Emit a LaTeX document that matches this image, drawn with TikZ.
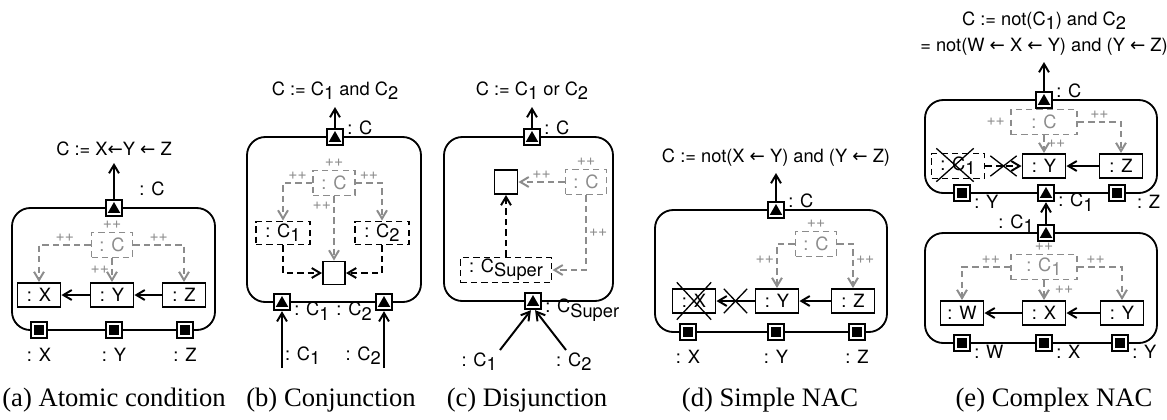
\documentclass[tikz,border=0pt]{standalone}
\usepackage{fontspec}
\setsansfont{TeX Gyre Heros}
\newfontfamily\capfont{Liberation Serif}
\newfontfamily\arrowfont{DejaVu Sans}
\usetikzlibrary{arrows.meta,calc,positioning,shapes.misc}
\definecolor{condGray}{HTML}{8C8C8C}
\newlength{\pxu}
\setlength{\pxu}{0.383pt}
\newcommand{\diagfont}{\sffamily\fontsize{7}{8}\selectfont}
\newcommand{\csub}[1]{\raisebox{-1.6pt}{#1}}
\newcommand{\lar}{{\arrowfont\char"2190}}

\begin{document}
\begin{tikzpicture}[x=0.383pt, y=-0.383pt, every node/.style={font=\diagfont},
    condframe/.style={draw, line width=0.7pt, rounded corners=7pt, inner sep=0pt},
    obj/.style={draw, line width=0.75pt, minimum width=43\pxu, minimum height=24\pxu, inner sep=0pt},
    dobj/.style={obj, dash pattern=on 2.4pt off 1.6pt},
    ghost/.style={dobj, draw=condGray, text=condGray, minimum width=41\pxu, minimum height=25\pxu},
    hole/.style={draw, line width=0.75pt, minimum width=22\pxu, minimum height=23\pxu, inner sep=0pt},
    outport/.style={draw, line width=0.9pt, fill=white, minimum size=16\pxu, inner sep=0pt,
      path picture={\fill[black] ([xshift=-2.4pt,yshift=-1.9pt]path picture bounding box.center) -- ++(4.8pt,0pt) -- ++(-2.4pt,4.2pt) -- cycle;}},
    inport/.style={draw, line width=0.9pt, fill=white, minimum size=16\pxu, inner sep=0pt,
      path picture={\fill[black] ([xshift=-1.8pt,yshift=-1.8pt]path picture bounding box.center) rectangle ++(3.6pt,3.6pt);}},
    lbl/.style={inner sep=1pt},
    res/.style={inner sep=2.5pt, anchor=south},
    plus/.style={font=\sffamily\fontsize{6}{6}\selectfont, text=condGray, inner sep=0.8pt},
    arr/.style={line width=0.75pt, -{Straight Barb[length=3.2pt,width=3.8pt]}},
    garr/.style={arr, condGray, dash pattern=on 2.4pt off 1.6pt},
    darr/.style={arr, dash pattern=on 2.4pt off 1.6pt},
    xmark/.style={cross out, draw, solid, line width=0.5pt, inner sep=0pt},
    capt/.style={font=\capfont\fontsize{10.2}{12}\selectfont}]
  \useasboundingbox (0,0) rectangle (1167,419);

  \node[condframe, minimum width=203\pxu, minimum height=122\pxu] (aBox) at (113.5,269) {};
  \node[outport] (aOut) at (114,208) {};
  \node[res] (aRes) at (114,163) {C := X\lar Y \lar{} Z};
  \draw[arr] (aOut) -- (aRes);
  \node[lbl] (aOutL) at (152,189) {: C};
  \node[ghost] (aC) at (112,245) {: C};
  \node[plus, above=0pt of aC] (aCp) {++};
  \node[obj] (aX) at (39,295) {: X};
  \node[obj] (aY) at (112,295) {: Y};
  \node[obj] (aZ) at (184,295) {: Z};
  \draw[arr] (aY) -- (aX);
  \draw[arr] (aZ) -- (aY);
  \draw[garr] (aC.west) -| node[plus, pos=0.25, above] (aPl) {++} (aX.north);
  \draw[garr] (aC.east) -| node[plus, pos=0.25, above] (aPr) {++} (aZ.north);
  \draw[garr] (aC) -- node[plus, left] (aPm) {++} (aY);
  \node[inport] (aInX) at (39,330) {};
  \node[inport] (aInY) at (114,330) {};
  \node[inport] (aInZ) at (185,330) {};
  \foreach \p/\t in {aInX/X,aInY/Y,aInZ/Z}
    \node[lbl, below=2.3pt of \p] (\p L) {: \t};

  \node[condframe, minimum width=174\pxu, minimum height=165\pxu] (bBox) at (334,219.5) {};
  \node[outport] (bOut) at (335,137) {};
  \node[res] (bRes) at (335,107) {C := C\csub{1} and C\csub{2}};
  \draw[arr] (bOut) -- (bRes);
  \node[lbl, anchor=west] (bOutL) at (bOut.north east) {: C};
  \node[ghost, minimum width=42\pxu] (bC) at (334,183) {: C};
  \node[plus, above=0pt of bC] (bCp) {++};
  \node[dobj, minimum width=54\pxu, minimum height=23\pxu] (bC1) at (283,233) {: C\csub{1}};
  \node[dobj, minimum width=54\pxu, minimum height=23\pxu] (bC2) at (382,233) {: C\csub{2}};
  \node[hole] (bAnd) at (334,273) {};
  \draw[garr] (bC.west) -| node[plus, pos=0.25, above] (bPl) {++} (bC1.north);
  \draw[garr] (bC.east) -| node[plus, pos=0.25, above] (bPr) {++} (bC2.north);
  \draw[garr] (bC) -- node[plus, pos=0.15, left] (bPm) {++} (bAnd);
  \draw[darr] (bC1.south) |- (bAnd.west);
  \draw[darr] (bC2.south) |- (bAnd.east);
  \node[outport] (bIn1) at (282,302) {};
  \node[outport] (bIn2) at (384,302) {};
  \node[lbl, anchor=west] (bIn1L) at (bIn1.south east) {: C\csub{1}};
  \node[lbl, anchor=east] (bIn2L) at (bIn2.south west) {: C\csub{2}};
  \coordinate (bSrc1) at (282,368);
  \coordinate (bSrc2) at (384,368);
  \draw[arr] (bSrc1) -- (bIn1);
  \draw[arr] (bSrc2) -- (bIn2);
  \node[lbl, anchor=south west] (bSrc1L) at (bSrc1) {: C\csub{1}};
  \node[lbl, anchor=south east] (bSrc2L) at (bSrc2) {: C\csub{2}};

  \node[condframe, minimum width=169\pxu, minimum height=164\pxu] (cBox) at (528.5,219) {};
  \node[outport] (cOut) at (532,137) {};
  \node[res] (cRes) at (532,107) {C := C\csub{1} or C\csub{2}};
  \draw[arr] (cOut) -- (cRes);
  \node[lbl, anchor=west] (cOutL) at (cOut.north east) {: C};
  \node[hole, minimum width=23\pxu, minimum height=24\pxu] (cOr) at (506,182) {};
  \node[ghost] (cC) at (586,182) {: C};
  \node[plus, above=0pt of cC] (cCp) {++};
  \node[dobj, minimum width=91\pxu, minimum height=25\pxu] (cSup) at (506,270) {: C\csub{Super}};
  \draw[garr] (cC) -- node[plus, above] (cPt) {++} (cOr);
  \draw[garr] (cC.south) |- node[plus, pos=0.25, right] (cPd) {++} (cSup.east);
  \draw[darr] (cSup) -- (cOr);
  \node[outport] (cIn) at (533,301) {};
  \node[lbl, anchor=west] (cInL) at (cIn.south east) {: C\csub{Super}};
  \coordinate (cSrc1) at (500,350);
  \coordinate (cSrc2) at (566,350);
  \draw[arr] (cSrc1) -- ([xshift=-0.8pt]cIn.south);
  \draw[arr] (cSrc2) -- ([xshift=0.8pt]cIn.south);
  \node[lbl, anchor=north east] (cSrc1L) at (cSrc1) {: C\csub{1}};
  \node[lbl, anchor=north] (cSrc2L) at ([xshift=3pt]cSrc2) {: C\csub{2}};

  \node[condframe, minimum width=232\pxu, minimum height=122\pxu] (dBox) at (771,271) {};
  \node[outport] (dOut) at (776,210) {};
  \node[res] (dRes) at (776,173) {C := not(X \lar{} Y) and (Y \lar{} Z)};
  \draw[arr] (dOut) -- (dRes);
  \node[lbl, anchor=west] (dOutL) at (dOut.north east) {: C};
  \node[ghost] (dC) at (816,244) {: C};
  \node[plus, above=0pt of dC] (dCp) {++};
  \node[obj] (dX) at (694,301) {: X};
  \node[obj] (dY) at (777,301) {: Y};
  \node[obj] (dZ) at (853,301) {: Z};
  \node[xmark, minimum width=33\pxu, minimum height=36\pxu] (dXno) at (dX) {};
  \draw[garr] (dC.west) -| node[plus, pos=0.68, left] (dPl) {++} (dY.north);
  \draw[garr] (dC.east) -| node[plus, pos=0.68, right] (dPr) {++} (dZ.north);
  \draw[arr] (dZ) -- (dY);
  \draw[arr] (dY) -- node[xmark, minimum width=22\pxu, minimum height=23\pxu] (dNo) {} (dX);
  \node[inport] (dInX) at (688,332) {};
  \node[inport] (dInY) at (776,332) {};
  \node[inport] (dInZ) at (857,332) {};
  \foreach \p/\t in {dInX/X,dInY/Y,dInZ/Z}
    \node[lbl, below=2.3pt of \p] (\p L) {: \t};

  \node[condframe, minimum width=232\pxu, minimum height=93\pxu] (eTop) at (1041,146.5) {};
  \node[condframe, minimum width=232\pxu, minimum height=110\pxu] (eBot) at (1041,288) {};
  \node[outport] (eOut) at (1044,100) {};
  \node[res, align=center] (eRes) at (1044,62) {C := not(C\csub{1}) and C\csub{2}\\[1.8pt]= not(W \lar{} X \lar{} Y) and (Y \lar{} Z)};
  \draw[arr] (eOut) -- (eRes);
  \node[lbl, anchor=west] (eOutL) at (eOut.north east) {: C};
  \node[ghost, minimum width=66\pxu] (eC) at (1044,122) {: C};
  \node[plus, left=1pt of eC] (eCp) {++};
  \node[dobj, minimum width=53\pxu, minimum height=25\pxu] (eC1) at (958,166) {: C\csub{1}};
  \node[xmark, minimum width=36\pxu, minimum height=32\pxu] (eC1no) at (955,165) {};
  \node[obj] (eY) at (1044,166) {: Y};
  \node[obj] (eZ) at (1121,166) {: Z};
  \draw[garr] (eC) -- node[plus, right] (ePm) {++} (eY);
  \draw[garr] (eC.east) -| node[plus, pos=0.25, above] (ePr) {++} (eZ.north);
  \draw[arr] (eZ) -- (eY);
  \draw[darr] (eC1) -- node[xmark, minimum width=25\pxu, minimum height=19\pxu] (eNo) {} (eY);
  \node[inport] (eInY) at (962,193) {};
  \node[outport] (eInC1) at (1046,193) {};
  \node[inport] (eInZ) at (1117,193) {};
  \node[lbl, anchor=west] (eInYL) at (eInY.south east) {: Y};
  \node[lbl, anchor=west] (eInC1L) at (eInC1.south east) {: C\csub{1}};
  \node[lbl, anchor=west] (eInZL) at ([xshift=3pt]eInZ.south east) {: Z};
  \node[outport] (eOut1) at (1046,233) {};
  \draw[arr] (eOut1) -- (eInC1);
  \node[lbl, anchor=east] (eOut1L) at (eOut1.north west) {: C\csub{1}};
  \node[ghost, minimum width=66\pxu] (eCC) at (1044,267) {: C\csub{1}};
  \node[plus, above=0pt of eCC] (eCCp) {++};
  \node[obj] (eW) at (962,313) {: W};
  \node[obj] (eX) at (1044,313) {: X};
  \node[obj] (eYY) at (1122,313) {: Y};
  \draw[garr] (eCC.west) -| node[plus, pos=0.2, above] (eQl) {++} (eW.north);
  \draw[garr] (eCC.east) -| node[plus, pos=0.2, above] (eQr) {++} (eYY.north);
  \draw[garr] (eCC) -- node[plus, right=3pt] (eQm) {++} (eX);
  \draw[arr] (eX) -- (eW);
  \draw[arr] (eYY) -- (eX);
  \node[inport] (eInW) at (962,343) {};
  \node[inport] (eInX) at (1044,343) {};
  \node[inport] (eInYY) at (1120,343) {};
  \foreach \p/\t in {eInW/W,eInX/X,eInYY/Y}
    \node[lbl, anchor=west] (\p L) at (\p.south east) {: \t};

  \node[capt] (aCap) at (114,400) {(a) Atomic condition};
  \node[capt] (bCap) at (331,400) {(b) Conjunction};
  \node[capt] (cCap) at (527,400) {(c) Disjunction};
  \node[capt] (dCap) at (770,400) {(d) Simple NAC};
  \node[capt] (eCap) at (1054,400) {(e) Complex NAC};
\end{tikzpicture}
\end{document}
